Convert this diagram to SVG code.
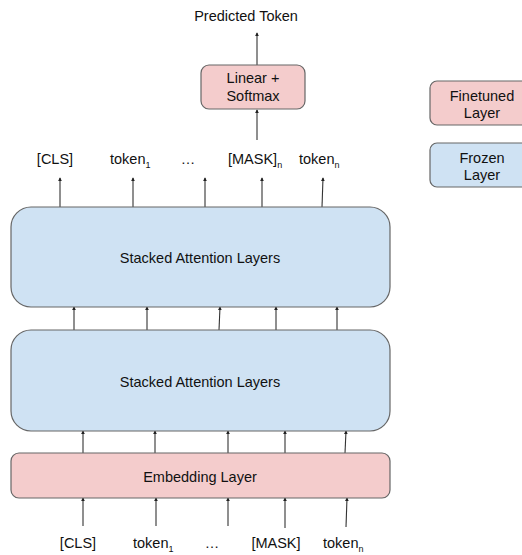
<svg xmlns="http://www.w3.org/2000/svg" width="522" height="555" viewBox="0 0 522 555">
  <style>
    text { font-family: "Liberation Sans", Arial, sans-serif; font-size: 14.5px; fill: #111; }
    .mid { text-anchor: middle; }
    .sub { font-size: 9px; }
    .pink { fill: #f4cccc; stroke: #666; stroke-width: 1.2; }
    .blue { fill: #cfe2f3; stroke: #666; stroke-width: 1.2; }
    .arr { stroke: #333; stroke-width: 1.1; fill: none; marker-end: url(#head); }
  </style>
  <defs>
    <marker id="head" viewBox="0 0 6 6" refX="5" refY="3" markerWidth="4" markerHeight="4" orient="auto" markerUnits="userSpaceOnUse">
      <path d="M0,0 L6,3 L0,6 Z" fill="#222"/>
    </marker>
  </defs>

  <!-- connectors -->
  <g id="connectors">
    <line class="arr" x1="257" y1="65" x2="257" y2="33"/>
    <line class="arr" x1="257" y1="140" x2="257" y2="110"/>
    <!-- outputs of upper stack -->
    <line class="arr" x1="60" y1="207" x2="60" y2="178"/>
    <line class="arr" x1="133" y1="207" x2="133" y2="178"/>
    <line class="arr" x1="205" y1="207" x2="205" y2="178"/>
    <line class="arr" x1="262" y1="207" x2="262" y2="178"/>
    <line class="arr" x1="322" y1="207" x2="323" y2="178"/>
    <!-- lower stack to upper stack -->
    <line class="arr" x1="74" y1="330" x2="74" y2="307"/>
    <line class="arr" x1="147" y1="330" x2="147" y2="307"/>
    <line class="arr" x1="219" y1="330" x2="220" y2="307"/>
    <line class="arr" x1="276" y1="332" x2="276" y2="307"/>
    <line class="arr" x1="337" y1="330" x2="337" y2="307"/>
    <!-- embedding to lower stack -->
    <line class="arr" x1="83" y1="453" x2="83" y2="431"/>
    <line class="arr" x1="155" y1="453" x2="155" y2="431"/>
    <line class="arr" x1="228" y1="453" x2="228" y2="431"/>
    <line class="arr" x1="285" y1="455" x2="285" y2="431"/>
    <line class="arr" x1="345" y1="453" x2="346" y2="431"/>
    <!-- inputs to embedding -->
    <line class="arr" x1="83" y1="526" x2="83" y2="498"/>
    <line class="arr" x1="156" y1="526" x2="156" y2="498"/>
    <line class="arr" x1="228" y1="526" x2="228" y2="498"/>
    <line class="arr" x1="285" y1="528" x2="285" y2="498"/>
    <line class="arr" x1="346" y1="527" x2="347" y2="498"/>
  </g>

  <text class="mid" x="246" y="21">Predicted Token</text>

  <g id="linear-softmax">
    <rect class="pink" x="201" y="65" width="104" height="44" rx="8"/>
    <text class="mid" x="253" y="83">Linear +</text>
    <text class="mid" x="253" y="101">Softmax</text>
  </g>

  <!-- output tokens -->
  <g id="output-labels">
    <text class="mid" x="55" y="164">[CLS]</text>
    <text x="110" y="164">token<tspan class="sub" dy="4">1</tspan></text>
    <text class="mid" x="188" y="164">…</text>
    <text x="228" y="164">[MASK]<tspan class="sub" dy="4">n</tspan></text>
    <text x="299" y="164">token<tspan class="sub" dy="4">n</tspan></text>
  </g>

  <g id="stack-upper">
    <rect class="blue" x="11" y="207" width="379" height="100" rx="20"/>
    <text class="mid" x="200" y="263">Stacked Attention Layers</text>
  </g>

  <g id="stack-lower">
    <rect class="blue" x="11" y="330" width="379" height="101" rx="20"/>
    <text class="mid" x="200" y="387">Stacked Attention Layers</text>
  </g>

  <g id="embedding">
    <rect class="pink" x="11" y="453" width="379" height="45" rx="8"/>
    <text class="mid" x="200" y="482">Embedding Layer</text>
  </g>

  <!-- input tokens -->
  <g id="input-labels">
    <text class="mid" x="78" y="548">[CLS]</text>
    <text x="133" y="548">token<tspan class="sub" dy="4">1</tspan></text>
    <text class="mid" x="212" y="548">…</text>
    <text class="mid" x="276" y="548">[MASK]</text>
    <text x="323" y="548">token<tspan class="sub" dy="4">n</tspan></text>
  </g>

  <!-- legend -->
  <g id="legend-finetuned">
    <rect class="pink" x="430" y="81" width="104" height="44" rx="7"/>
    <text class="mid" x="482" y="101">Finetuned</text>
    <text class="mid" x="482" y="118">Layer</text>
  </g>
  <g id="legend-frozen">
    <rect class="blue" x="430" y="143" width="104" height="44" rx="7"/>
    <text class="mid" x="482" y="163">Frozen</text>
    <text class="mid" x="482" y="180">Layer</text>
  </g>
</svg>
